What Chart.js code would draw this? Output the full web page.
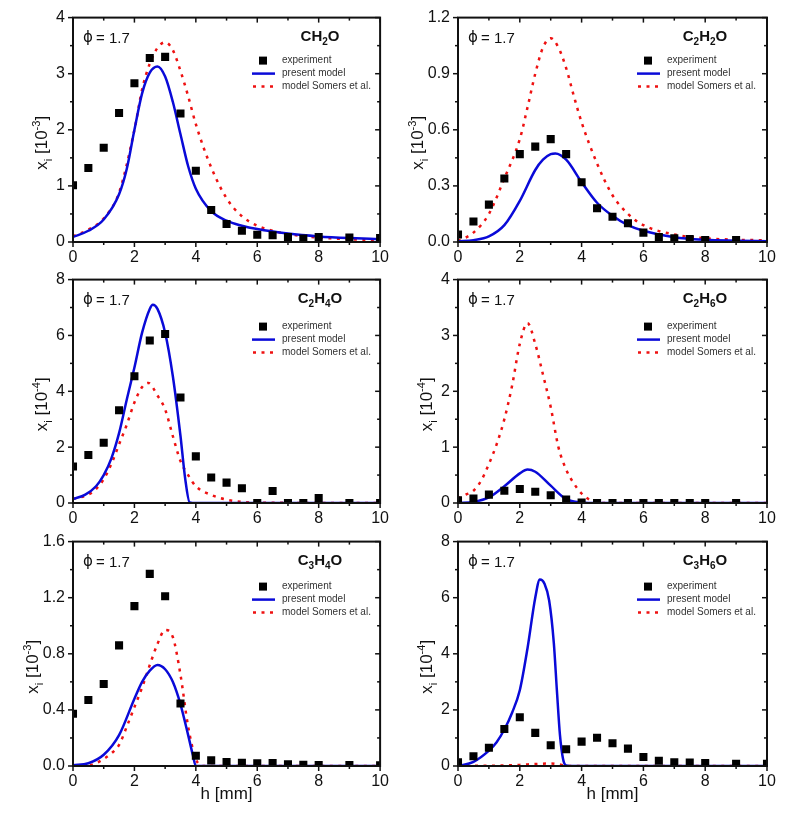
<!DOCTYPE html>
<html>
<head>
<meta charset="utf-8">
<script src="https://cdn.jsdelivr.net/npm/chart.js@4.4.1/dist/chart.umd.min.js"></script>
<style>
  body { margin: 0; background: #fff; width: 800px; height: 833px; overflow: hidden; }
  .box { position: absolute; }
  canvas { display: block; }
</style>
</head>
<body>
<div class="box" style="left:0;top:0"><canvas id="ch2o" width="395" height="262"></canvas></div>
<div class="box" style="left:395px;top:0"><canvas id="c2h2o" width="405" height="262"></canvas></div>
<div class="box" style="left:0;top:262px"><canvas id="c2h4o" width="395" height="262"></canvas></div>
<div class="box" style="left:395px;top:262px"><canvas id="c2h6o" width="405" height="262"></canvas></div>
<div class="box" style="left:0;top:524px"><canvas id="c3h4o" width="395" height="309"></canvas></div>
<div class="box" style="left:395px;top:524px"><canvas id="c3h6o" width="405" height="309"></canvas></div>
<script>
// h [mm] of the measured points (8.5 and 9.5 were not measured)
const hExp = [0, 0.5, 1, 1.5, 2, 2.5, 3, 3.5, 4, 4.5, 5, 5.5, 6, 6.5, 7, 7.5, 8, 9, 10];
const xTicks = [0, 2, 4, 6, 8, 10];

// CH2O, 10^-3
const ch2oExp = [1.01, 1.32, 1.68, 2.30, 2.83, 3.28, 3.30, 2.29, 1.27, 0.57, 0.32, 0.20, 0.13, 0.12, 0.09, 0.06, 0.09, 0.08, 0.07];
const ch2oModelH = [0, 0.5, 1, 1.5, 1.75, 2, 2.25, 2.5, 2.75, 3, 3.25, 3.5, 3.75, 4, 4.5, 5, 5.5, 6, 7, 8, 9, 10];
const ch2oModel = [0.09, 0.2, 0.4, 0.85, 1.3, 2.0, 2.65, 3.02, 3.13, 2.95, 2.5, 1.92, 1.35, 0.95, 0.55, 0.38, 0.29, 0.23, 0.15, 0.1, 0.07, 0.05];
const ch2oSomersH = [0, 0.5, 1, 1.5, 2, 2.25, 2.5, 2.75, 3, 3.25, 3.5, 3.75, 4, 4.5, 5, 5.5, 6, 6.5, 7, 8, 9, 10];
const ch2oSomers = [0.1, 0.22, 0.42, 0.88, 2.0, 2.72, 3.18, 3.46, 3.56, 3.42, 3.05, 2.6, 2.1, 1.33, 0.78, 0.46, 0.29, 0.2, 0.14, 0.08, 0.05, 0.03];
const ch2oTicks = [0, 1, 2, 3, 4];

// C2H2O, 10^-3
const c2h2oExp = [0.04, 0.11, 0.20, 0.34, 0.47, 0.51, 0.55, 0.47, 0.32, 0.18, 0.135, 0.10, 0.05, 0.026, 0.02, 0.016, 0.01, 0.01, null];
const c2h2oModelH = [0, 0.5, 1, 1.5, 2, 2.5, 2.75, 3, 3.15, 3.5, 4, 4.5, 5, 5.5, 6, 7, 8, 9, 10];
const c2h2oModel = [0.003, 0.01, 0.03, 0.09, 0.22, 0.385, 0.44, 0.47, 0.473, 0.44, 0.32, 0.21, 0.14, 0.09, 0.06, 0.026, 0.012, 0.007, 0.004];
const c2h2oSomersH = [0, 0.5, 1, 1.5, 2, 2.25, 2.5, 2.75, 3, 3.25, 3.5, 3.75, 4, 4.5, 5, 5.5, 6, 7, 8, 9, 10];
const c2h2oSomers = [0.005, 0.05, 0.15, 0.34, 0.55, 0.72, 0.9, 1.04, 1.09, 1.04, 0.93, 0.78, 0.64, 0.42, 0.25, 0.15, 0.09, 0.04, 0.02, 0.012, 0.009];
const c2h2oTicks = [0, 0.3, 0.6, 0.9, 1.2];

// C2H4O, 10^-4
const c2h4oExp = [1.31, 1.72, 2.16, 3.32, 4.54, 5.82, 6.05, 3.78, 1.67, 0.91, 0.73, 0.53, 0.0, 0.43, 0.0, 0.0, 0.18, 0.0, 0.0];
const c2h4oModelH = [0, 0.4, 0.75, 1, 1.25, 1.5, 1.75, 2, 2.25, 2.5, 2.6, 2.75, 3, 3.25, 3.5, 3.65, 3.8, 4, 10];
const c2h4oModel = [0.14, 0.3, 0.6, 1.0, 1.6, 2.5, 3.7, 4.85, 6.1, 6.95, 7.1, 6.95, 6.1, 4.55, 2.4, 0.9, 0.02, 0, 0];
const c2h4oSomersH = [0, 0.5, 0.75, 1, 1.25, 1.5, 1.75, 2, 2.25, 2.45, 2.75, 3, 3.25, 3.5, 3.75, 4, 4.5, 5, 5.5, 6, 10];
const c2h4oSomers = [0.14, 0.3, 0.5, 0.85, 1.4, 2.1, 2.8, 3.6, 4.15, 4.3, 3.85, 3.35, 2.4, 1.5, 1.0, 0.6, 0.29, 0.12, 0.04, 0.01, 0];
const c2h4oTicks = [0, 2, 4, 6, 8];

// C2H6O, 10^-4
const c2h6oExp = [0.05, 0.08, 0.15, 0.22, 0.25, 0.20, 0.14, 0.06, 0.01, 0, 0, 0, 0, 0, 0, 0, 0, 0, null];
const c2h6oModelH = [0, 0.5, 1, 1.5, 2, 2.25, 2.5, 3, 3.5, 4, 4.5, 10];
const c2h6oModel = [0, 0.02, 0.1, 0.3, 0.53, 0.6, 0.56, 0.31, 0.07, 0.01, 0, 0];
const c2h6oSomersH = [0, 0.25, 0.5, 0.75, 1, 1.25, 1.5, 1.75, 2, 2.25, 2.5, 2.75, 3, 3.25, 3.5, 3.75, 4, 4.25, 4.5, 10];
const c2h6oSomers = [0.08, 0.15, 0.22, 0.4, 0.7, 1.05, 1.5, 2.1, 2.85, 3.22, 2.85, 2.3, 1.72, 1.0, 0.6, 0.35, 0.17, 0.06, 0, 0];
const c2h6oTicks = [0, 1, 2, 3, 4];

// C3H4O, 10^-3
const c3h4oExp = [0.373, 0.47, 0.585, 0.86, 1.14, 1.37, 1.21, 0.446, 0.073, 0.04, 0.028, 0.023, 0.019, 0.021, 0.012, 0.009, 0.007, 0.007, 0.005];
const c3h4oModelH = [0, 0.5, 1, 1.5, 2, 2.25, 2.5, 2.75, 3, 3.25, 3.5, 3.75, 3.9, 4, 10];
const c3h4oModel = [0.005, 0.02, 0.08, 0.22, 0.48, 0.6, 0.68, 0.72, 0.69, 0.6, 0.44, 0.22, 0.08, 0, 0];
const c3h4oSomersH = [0, 0.5, 0.75, 1, 1.25, 1.5, 1.75, 2, 2.25, 2.5, 2.75, 3, 3.25, 3.5, 3.75, 4, 4.25, 10];
const c3h4oSomers = [0, 0.005, 0.02, 0.05, 0.09, 0.15, 0.28, 0.42, 0.56, 0.72, 0.87, 0.97, 0.92, 0.65, 0.28, 0.05, 0, 0];
const c3h4oTicks = [0, 0.4, 0.8, 1.2, 1.6];

// C3H6O, 10^-4
const c3h6oExp = [0.13, 0.35, 0.65, 1.32, 1.74, 1.18, 0.74, 0.60, 0.87, 1.01, 0.81, 0.62, 0.32, 0.19, 0.13, 0.12, 0.11, 0.08, 0.08];
const c3h6oModelH = [0, 0.5, 1, 1.25, 1.5, 1.75, 2, 2.25, 2.5, 2.65, 2.8, 2.95, 3.1, 3.2, 3.3, 3.4, 3.5, 3.75, 10];
const c3h6oModel = [0, 0.15, 0.55, 0.85, 1.3, 1.9, 2.7, 4.2, 6.0, 6.65, 6.5, 5.9, 4.4, 2.7, 1.1, 0.25, 0.02, 0, 0];
const c3h6oSomersH = [0, 0.5, 1, 1.5, 2, 2.5, 3, 3.25, 3.5, 3.75, 10];
const c3h6oSomers = [0, 0.005, 0.01, 0.02, 0.04, 0.07, 0.09, 0.06, 0.01, 0, 0];
const c3h6oTicks = [0, 2, 4, 6, 8];

const FONT = '"Liberation Sans", Arial, sans-serif';
const BLUE = '#0a0ad8';
const RED = '#ee1111';
const INK = '#111';
Chart.defaults.font.family = FONT;

function pts(xs, ys) {
  return xs.map((x, i) => ({ x: x, y: ys[i] }));
}

// parts: [text, 0 normal | 1 subscript | -1 superscript]
function drawRich(ctx, parts, x, y, size, bold, align) {
  const w = bold ? 'bold ' : '';
  const small = Math.round(size * 0.65);
  const fontOf = p => w + (p[1] ? small : size) + 'px ' + FONT;
  let total = 0;
  parts.forEach(p => { ctx.font = fontOf(p); total += ctx.measureText(p[0]).width; });
  let cx = align === 'center' ? x - total / 2 : align === 'right' ? x - total : x;
  ctx.textAlign = 'left';
  ctx.textBaseline = 'alphabetic';
  parts.forEach(p => {
    ctx.font = fontOf(p);
    const dy = p[1] === 1 ? size * 0.28 : p[1] === -1 ? -size * 0.42 : 0;
    ctx.fillText(p[0], cx, y + dy);
    cx += ctx.measureText(p[0]).width;
  });
}

function formula(s) {
  const parts = [];
  for (let i = 0; i < s.length; i++) {
    if (s[i] === '_') { parts.push([s[i + 1], 1]); i++; }
    else parts.push([s[i], 0]);
  }
  return parts;
}

// frame with Origin style ticks, labels and legend inside the plot
const decor = {
  id: 'decor',
  afterDatasetsDraw(chart, args, o) {
    const { ctx, chartArea: a, scales: { x, y } } = chart;
    ctx.save();
    ctx.strokeStyle = INK;
    ctx.lineWidth = 2;
    ctx.strokeRect(a.left, a.top, a.right - a.left, a.bottom - a.top);

    const minors = s => {
      const v = s.ticks.map(t => t.value), out = [];
      for (let i = 0; i < v.length - 1; i++) out.push((v[i] + v[i + 1]) / 2);
      return out;
    };
    const tick = (x0, y0, x1, y1) => { ctx.beginPath(); ctx.moveTo(x0, y0); ctx.lineTo(x1, y1); ctx.stroke(); };
    ctx.lineWidth = 1.5;
    [[x.ticks.map(t => t.value), 5], [minors(x), 3]].forEach(([vals, len]) => {
      vals.forEach(v => {
        const px = x.getPixelForValue(v);
        tick(px, a.bottom, px, a.bottom + len);
        tick(px, a.top, px, a.top + len);
      });
    });
    [[y.ticks.map(t => t.value), 5], [minors(y), 3]].forEach(([vals, len]) => {
      vals.forEach(v => {
        const py = y.getPixelForValue(v);
        tick(a.left, py, a.left - len, py);
        tick(a.right, py, a.right - len, py);
      });
    });
    ctx.restore();
  },
  afterDraw(chart, args, o) {
    const { ctx, chartArea: a } = chart;
    const ds = chart.data.datasets;
    ctx.save();
    ctx.fillStyle = INK;

    // phi label
    ctx.textAlign = 'left';
    ctx.textBaseline = 'alphabetic';
    ctx.font = '15px "DejaVu Sans"';
    ctx.fillText('\u03d5', a.left + 10, a.top + 24);
    ctx.font = '15px ' + FONT;
    ctx.fillText('= 1.7', a.left + 23, a.top + 25);

    // species
    drawRich(ctx, formula(o.species), a.left + 247, a.top + 23, 15, true, 'center');

    // y title
    ctx.save();
    ctx.translate(a.left - o.titleOff, (a.top + a.bottom) / 2 + 13);
    ctx.rotate(-Math.PI / 2);
    drawRich(ctx, [['x', 0], ['i', 1], [' [10', 0], [o.power, -1], [']', 0]], 0, 6, 17, false, 'center');
    ctx.restore();

    // legend
    const lx = a.left + 190;
    const rows = [a.top + o.legTop, a.top + o.legTop + 13, a.top + o.legTop + 26];
    ctx.fillStyle = ds[0].backgroundColor;
    ctx.fillRect(lx - 4, rows[0] - 4, 8, 8);
    ctx.lineWidth = 2.5;
    ctx.strokeStyle = ds[1].borderColor;
    ctx.beginPath(); ctx.moveTo(lx - 11, rows[1]); ctx.lineTo(lx + 12, rows[1]); ctx.stroke();
    ctx.strokeStyle = ds[2].borderColor;
    ctx.setLineDash(ds[2].borderDash);
    ctx.beginPath(); ctx.moveTo(lx - 10, rows[2]); ctx.lineTo(lx + 14, rows[2]); ctx.stroke();
    ctx.setLineDash([]);
    ctx.fillStyle = '#333';
    ctx.font = '10px ' + FONT;
    ctx.textBaseline = 'middle';
    ds.forEach((d, i) => ctx.fillText(d.label, a.left + 209, rows[i]));
    ctx.restore();
  }
};

function makeChart(id, p) {
  const dec = p.yTicks.some(v => v % 1 !== 0);
  new Chart(document.getElementById(id), {
    type: 'scatter',
    data: {
      datasets: [{
        label: 'experiment',
        data: pts(hExp, p.exp),
        pointStyle: 'rect',
        pointRadius: 5.7,
        pointHoverRadius: 5.7,
        backgroundColor: '#000',
        borderColor: '#000',
        borderWidth: 0
      }, {
        label: 'present model',
        data: pts(p.modelH, p.model),
        showLine: true,
        borderColor: BLUE,
        borderWidth: 2.5,
        pointRadius: 0,
        cubicInterpolationMode: 'monotone'
      }, {
        label: 'model Somers et al.',
        data: pts(p.somersH, p.somers),
        showLine: true,
        borderColor: RED,
        borderWidth: 2.5,
        borderDash: [3, 5.5],
        pointRadius: 0,
        cubicInterpolationMode: 'monotone'
      }]
    },
    options: {
      responsive: false,
      animation: false,
      events: [],
      layout: { padding: { top: p.padTop, right: p.padRight, left: 0, bottom: 0 } },
      plugins: {
        legend: { display: false },
        tooltip: { enabled: false },
        decor: { species: p.species, power: p.power, titleOff: dec ? 41 : 32, legTop: p.legTop }
      },
      scales: {
        x: {
          type: 'linear', min: 0, max: 10,
          afterBuildTicks: s => { s.ticks = xTicks.map(v => ({ value: v })); },
          afterFit: s => { s.height = p.xHeight; },
          grid: { display: false, drawTicks: false },
          border: { display: false },
          ticks: { color: INK, font: { size: 16 }, padding: 6, maxRotation: 0 },
          title: { display: !!p.xTitle, text: 'h [mm]', color: INK, font: { size: 17 }, padding: { top: 0, bottom: 28 } }
        },
        y: {
          min: p.yTicks[0], max: p.yTicks[p.yTicks.length - 1],
          afterBuildTicks: s => { s.ticks = p.yTicks.map(v => ({ value: v })); },
          afterFit: s => { s.width = p.yWidth; },
          grid: { display: false, drawTicks: false },
          border: { display: false },
          ticks: { color: INK, font: { size: 16 }, padding: 8, callback: v => dec ? v.toFixed(1) : String(v) }
        }
      }
    },
    plugins: [decor]
  });
}

const colA = { yWidth: 73, padRight: 12 };
const colB = { yWidth: 63, padRight: 33 };
const row1 = { padTop: 15, xHeight: 20, legTop: 43 };
const row2 = { padTop: 14, xHeight: 21, legTop: 47 };
const row3 = { padTop: 14, xHeight: 67, legTop: 45, xTitle: true };

makeChart('ch2o', Object.assign({ species: 'CH_2O', power: '-3', exp: ch2oExp, modelH: ch2oModelH, model: ch2oModel, somersH: ch2oSomersH, somers: ch2oSomers, yTicks: ch2oTicks }, colA, row1));
makeChart('c2h2o', Object.assign({ species: 'C_2H_2O', power: '-3', exp: c2h2oExp, modelH: c2h2oModelH, model: c2h2oModel, somersH: c2h2oSomersH, somers: c2h2oSomers, yTicks: c2h2oTicks }, colB, row1));
makeChart('c2h4o', Object.assign({ species: 'C_2H_4O', power: '-4', exp: c2h4oExp, modelH: c2h4oModelH, model: c2h4oModel, somersH: c2h4oSomersH, somers: c2h4oSomers, yTicks: c2h4oTicks }, colA, row2));
makeChart('c2h6o', Object.assign({ species: 'C_2H_6O', power: '-4', exp: c2h6oExp, modelH: c2h6oModelH, model: c2h6oModel, somersH: c2h6oSomersH, somers: c2h6oSomers, yTicks: c2h6oTicks }, colB, row2));
makeChart('c3h4o', Object.assign({ species: 'C_3H_4O', power: '-3', exp: c3h4oExp, modelH: c3h4oModelH, model: c3h4oModel, somersH: c3h4oSomersH, somers: c3h4oSomers, yTicks: c3h4oTicks }, colA, row3));
makeChart('c3h6o', Object.assign({ species: 'C_3H_6O', power: '-4', exp: c3h6oExp, modelH: c3h6oModelH, model: c3h6oModel, somersH: c3h6oSomersH, somers: c3h6oSomers, yTicks: c3h6oTicks }, colB, row3));
</script>
</body>
</html>
